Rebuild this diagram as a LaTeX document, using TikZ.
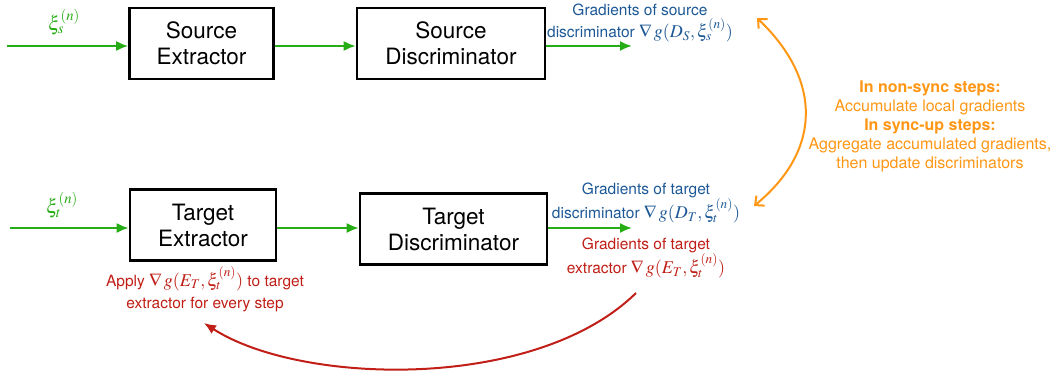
\documentclass[tikz,border=0pt]{standalone}
\usepackage{mathptmx}
\usepackage{fontspec}
\setmainfont{TeX Gyre Heros}
\usetikzlibrary{arrows.meta}
\definecolor{flowgreen}{RGB}{38,172,20}
\definecolor{gradblue}{RGB}{28,88,150}
\definecolor{gradred}{RGB}{192,30,22}
\definecolor{syncorange}{RGB}{255,150,20}
% gradient formulas are set a little larger than the words round them
\newcommand{\gradterm}[2]{{\fontsize{18}{21}\selectfont$\nabla\, g(#1,\xi_#2^{(n)})$}}
\tikzset{
  block/.style={draw=black, line width=2.6pt, rectangle, minimum height=71pt,
    align=center, font=\fontsize{22.5}{26}\selectfont},
  flow/.style={draw=flowgreen, line width=2pt, -{Latex[length=12pt,width=10pt]}},
  note/.style={align=center, font=\fontsize{15.5}{22}\selectfont},
}
\begin{document}
\begin{tikzpicture}[x=1pt,y=-1pt]
\useasboundingbox (0,0) rectangle (1057,370);

% processing blocks
\node[block, minimum width=144pt] (se) at (201.5,43.5) {Source\\Extractor};
\node[block, minimum width=188pt] (sd) at (451,43.5) {Source\\Discriminator};
\node[block, minimum width=146pt] (te) at (203,225) {Target\\Extractor};
\node[block, minimum width=187pt] (td) at (453.5,229) {Target\\Discriminator};

% free ends of the data flow
\coordinate (sin) at (7,46);
\coordinate (tin) at (10,228);
\coordinate (sout) at (632,46);
\coordinate (tout) at (632,228);

% data flow through the source and target branches
\draw[flow] (sin) -- (sin -| se.west);
\draw[flow] (sin -| se.east) -- (sin -| sd.west);
\draw[flow] (sin -| sd.east) -- (sout);
\draw[flow] (tin) -- (tin -| te.west);
\draw[flow] (tin -| te.east) -- (tin -| td.west);
\draw[flow] (tin -| td.east) -- (tout);

% input samples
\node[text=flowgreen, font=\fontsize{20}{20}\selectfont] (xs) at (64,22) {$\xi_s^{(n)}$};
\node[text=flowgreen, font=\fontsize{20}{20}\selectfont] (xt) at (62,205) {$\xi_t^{(n)}$};

% gradient labels
\node[note, text=gradblue] (gs) at (640,23) {Gradients of source\\discriminator \gradterm{D_S}{s}};
\node[note, text=gradblue] (gd) at (646,203) {Gradients of target\\discriminator \gradterm{D_T}{t}};
\node[note, text=gradred] (ge) at (646,258) {Gradients of target\\extractor \gradterm{E_T}{t}};
\node[note, text=gradred] (ap) at (205,289) {Apply \gradterm{E_T}{t} to target\\extractor for every step};

% synchronisation rule
\node[note, text=syncorange, font=\fontsize{16}{19}\selectfont] (sync) at (930,126)
  {\textbf{In non-sync steps:}\\Accumulate local gradients\\\textbf{In sync-up steps:}\\Aggregate accumulated gradients,\\then update discriminators};

% exchange between the discriminator gradients
\coordinate (otop) at (757,18);
\coordinate (obot) at (754,206);
\draw[draw=syncorange, line width=2pt, {Straight Barb[length=7pt,width=13pt]}-{Straight Barb[length=7pt,width=13pt]}]
  (otop) .. controls (822,80) and (822,150) .. (obot);

% extractor gradient sent back to the target extractor
\coordinate (rstart) at (636,293);
\coordinate (rend) at (204,323);
\draw[draw=gradred, line width=2pt, -{Latex[length=12pt,width=10pt]}]
  (rstart) .. controls (535,392) and (300,385) .. (rend);
\end{tikzpicture}
\end{document}
